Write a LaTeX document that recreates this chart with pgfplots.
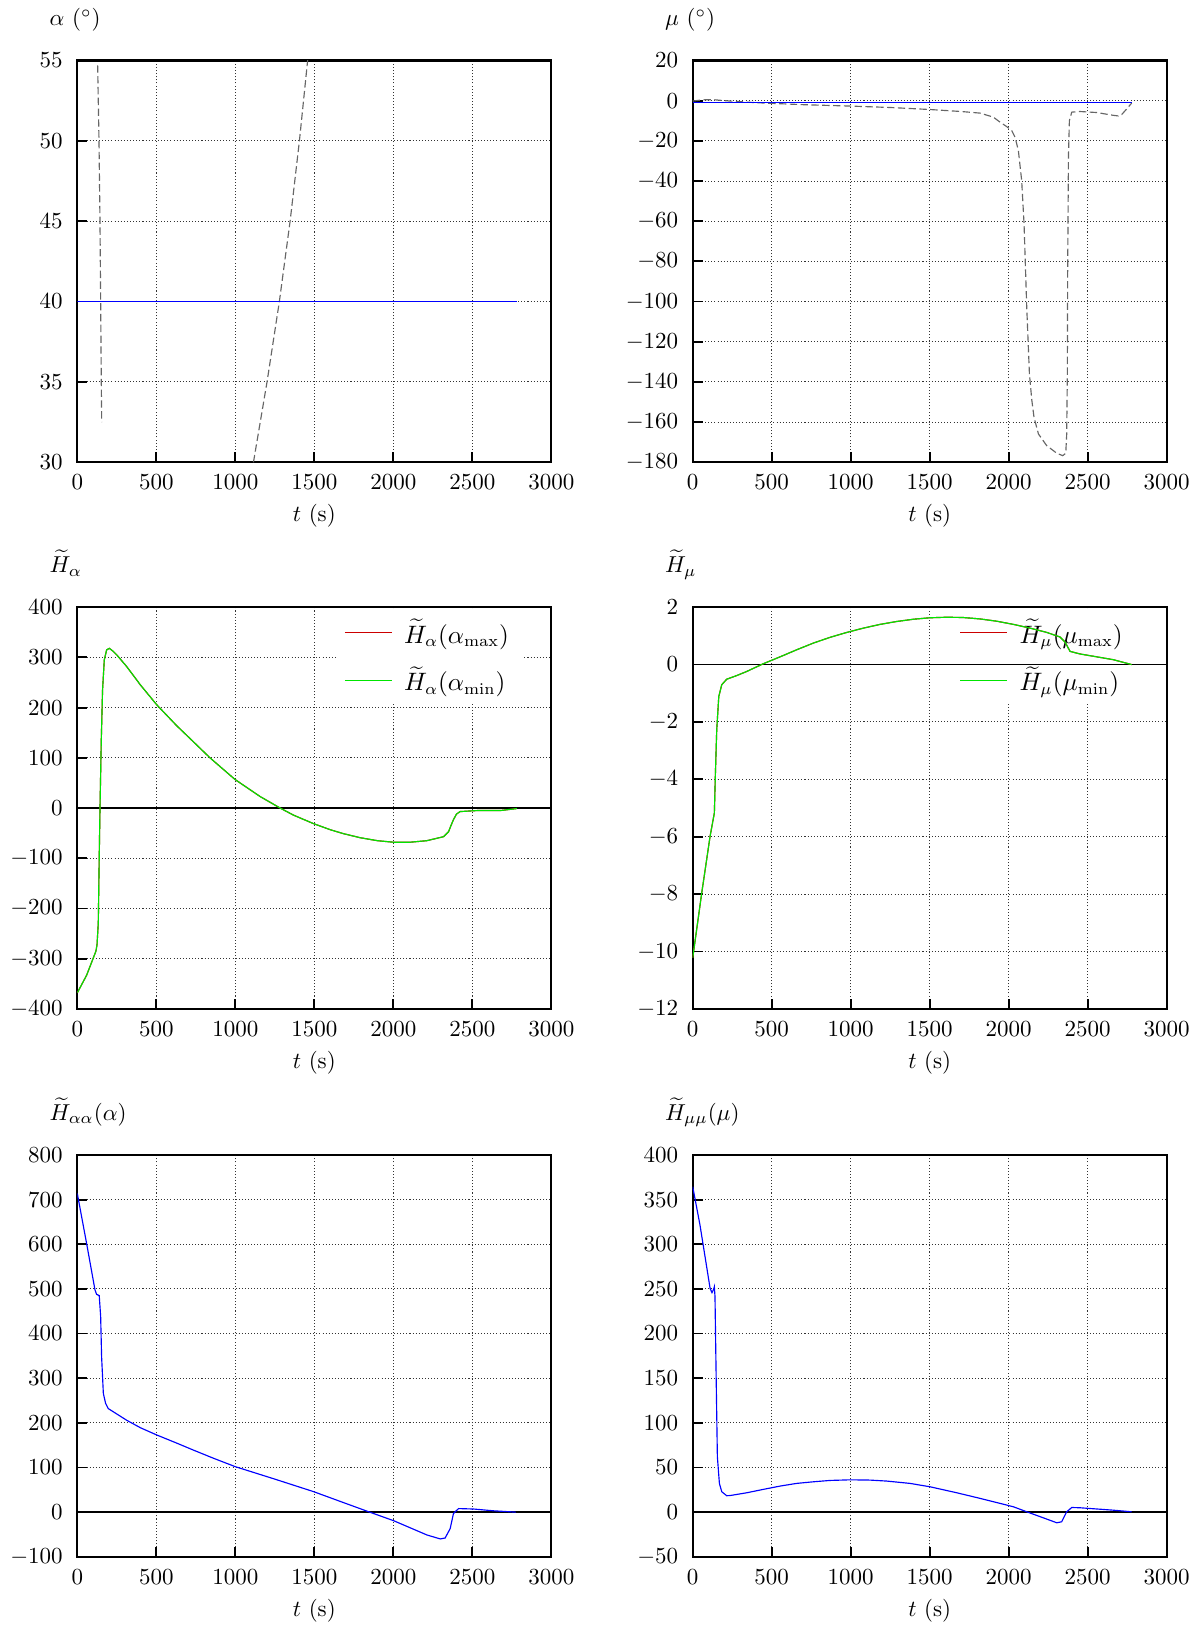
\documentclass[border=0pt]{standalone}
\usepackage{pgfplots}
\pgfplotsset{compat=1.18}
\definecolor{cblue}{rgb}{0,0,1}
\definecolor{cgreen}{rgb}{0,0.9,0}
\definecolor{cred}{rgb}{0.8,0,0}
\definecolor{cgray}{rgb}{0.4,0.4,0.4}
\pgfplotsset{
  layers/legbelow/.define layer set={
    axis background,axis grid,axis descriptions,axis ticks,axis lines,axis tick labels,pre main,main,axis foreground
  }{
    grid style={/pgfplots/on layer=axis grid},
    tick style={/pgfplots/on layer=axis ticks},
    axis line style={/pgfplots/on layer=axis lines},
    label style={/pgfplots/on layer=axis descriptions},
    legend style={/pgfplots/on layer=axis descriptions},
    title style={/pgfplots/on layer=axis descriptions},
    ticklabel style={/pgfplots/on layer=axis tick labels},
  },
  myax/.style={
    scale only axis, width=206.1pt, height=174.7pt, anchor=north west,
    xmin=0, xmax=3000, xtick={0,500,...,3000},
    grid=major,
    major grid style={black!80, line width=0.45pt, dash pattern=on 0.45pt off 0.9pt},
    axis line style={line width=0.9pt},
    tick style={black, line width=0.8pt},
    tick align=inside, tick pos=left,
    xticklabel style={yshift=-2pt}, yticklabel style={xshift=-2.8pt},
    every axis x label/.style={at={(rel axis cs:0.5,0)}, anchor=base, yshift=-25.8pt, inner sep=0pt},
    every axis y label/.style={at={(rel axis cs:0,1)}, anchor=base west, xshift=-12.2pt, yshift=15pt, inner sep=0pt},
    xlabel={$t$ (s)},
    scaled ticks=false,
    /pgf/number format/1000 sep={},
  },
  myleg/.style={
    set layers=legbelow,
    legend style={at={(rel axis cs:0,1)}, anchor=north west, xshift=112.4pt, yshift=-1pt,
      draw=none, fill=white, inner xsep=3.5pt, inner ysep=2pt, row sep=4.8pt, column sep=3.2pt,
      font=\fontsize{10.6pt}{12.5pt}\selectfont},
    legend cell align=left,
    legend image code/.code={\draw[##1, line width=0.5pt] (0pt,0pt) -- (20.3pt,0pt);},
  },
}
\begin{document}
\begin{tikzpicture}
\path (0,0) rectangle (522.2pt,-707pt);

% alpha
\begin{axis}[myax, at={(33.6pt,-26.3pt)}, ymin=30, ymax=55, ytick={30,35,...,55},
  ylabel={$\alpha$ ($^\circ$)}]
\addplot[cgray, line width=0.5pt, dash pattern=on 3.2pt off 1.5pt] coordinates {
(129,54.7) (137.5,50) (143.7,45) (148,40) (152,35) (154.5,32.5)};
\addplot[cgray, line width=0.5pt, dash pattern=on 3.2pt off 1.5pt] coordinates {
(1115,30) (1201,35) (1279,40) (1347,45) (1406,50) (1460,55.2)};
\addplot[cblue, line width=0.5pt] coordinates {(0,40) (2780,40)};
\end{axis}

% mu
\begin{axis}[myax, at={(301.2pt,-26.3pt)}, ymin=-180, ymax=20, ytick={-180,-160,...,20},
  ylabel={$\mu$ ($^\circ$)}]
\addplot[cgray, line width=0.5pt, dash pattern=on 3.2pt off 1.5pt] coordinates {
(0,-0.2) (60,0.4) (130,0.5) (200,0) (400,-1) (700,-2) (1000,-2.7) (1250,-3.4) (1500,-4.4)
(1700,-5.4) (1819,-6.2) (1903,-8.2) (1945,-10.7) (1987,-12.9) (2019,-14.9) (2040,-18.2)
(2061,-24.8) (2082,-39.8) (2097,-61.3) (2114,-102.8) (2131,-136) (2146,-149) (2160,-157.6)
(2188,-165.9) (2240,-171.7) (2304,-175.5) (2342,-176.7) (2361,-175.5) (2367,-165.9)
(2371,-136) (2373,-86) (2378,-28) (2384,-9.9) (2399,-5.7) (2451,-5.4) (2557,-5.9)
(2662,-7.3) (2694,-7.6) (2715,-6.9) (2747,-4.1) (2778,-1.2)};
\addplot[cblue, line width=0.5pt] coordinates {(0,-0.9) (2778,-0.9)};
\end{axis}

% H alpha
\begin{axis}[myax, myleg, at={(33.6pt,-264pt)}, ymin=-400, ymax=400, ytick={-400,-300,...,400},
  ylabel={$\widetilde{H}_\alpha$}]
\addplot[black, line width=0.8pt, forget plot] coordinates {(0,0) (3000,0)};
\addplot[cred, line width=0.5pt] coordinates {
(0,-368) (59,-333) (118,-285) (125,-272) (133,-229) (139,-96) (144,3) (152,136) (160,235)
(171,295) (186,315) (203,318) (228,312) (250,305) (312,282) (400,245) (502,206) (629,164)
(735,132) (840,100) (998,57) (1157,23) (1284,0) (1368,-14) (1495,-31) (1600,-43) (1685,-51)
(1790,-59) (1900,-65) (2001,-68) (2107,-68) (2212,-65) (2318,-57) (2350,-47) (2365,-35)
(2381,-23) (2400,-12) (2423,-7) (2529,-5) (2677,-5) (2782,-1)};
\addplot[cgreen, line width=0.5pt] coordinates {
(0,-368) (59,-333) (118,-285) (125,-272) (133,-229) (139,-96) (144,3) (152,136) (160,235)
(171,295) (186,315) (203,318) (228,312) (250,305) (312,282) (400,245) (502,206) (629,164)
(735,132) (840,100) (998,57) (1157,23) (1284,0) (1368,-14) (1495,-31) (1600,-43) (1685,-51)
(1790,-59) (1900,-65) (2001,-68) (2107,-68) (2212,-65) (2318,-57) (2350,-47) (2365,-35)
(2381,-23) (2400,-12) (2423,-7) (2529,-5) (2677,-5) (2782,-1)};
\legend{$\widetilde{H}_\alpha(\alpha_{\mathrm{max}})$, $\widetilde{H}_\alpha(\alpha_{\mathrm{min}})$}
\end{axis}

% H mu
\begin{axis}[myax, myleg, at={(301.2pt,-264pt)}, ymin=-12, ymax=2, ytick={-12,-10,...,2},
  ylabel={$\widetilde{H}_\mu$}]
\addplot[black, line width=0.8pt, forget plot] coordinates {(0,0) (3000,0)};
\addplot[cred, line width=0.5pt] coordinates {
(0,-10.22) (57,-7.96) (110,-5.98) (131,-5.35) (137,-5.17) (143,-3.9) (152,-2.27) (165,-1.11)
(184,-0.70) (215,-0.51) (280,-0.38) (342,-0.24) (447,0.03) (553,0.27) (660,0.52) (764,0.75)
(870,0.95) (975,1.12) (1080,1.27) (1186,1.40) (1290,1.50) (1397,1.58) (1500,1.63) (1608,1.65)
(1710,1.64) (1819,1.59) (1925,1.51) (2030,1.40) (2135,1.27) (2241,1.12) (2325,0.96)
(2357,0.78) (2388,0.46) (2451,0.37) (2662,0.17) (2778,0)};
\addplot[cgreen, line width=0.5pt] coordinates {
(0,-10.22) (57,-7.96) (110,-5.98) (131,-5.35) (137,-5.17) (143,-3.9) (152,-2.27) (165,-1.11)
(184,-0.70) (215,-0.51) (280,-0.38) (342,-0.24) (447,0.03) (553,0.27) (660,0.52) (764,0.75)
(870,0.95) (975,1.12) (1080,1.27) (1186,1.40) (1290,1.50) (1397,1.58) (1500,1.63) (1608,1.65)
(1710,1.64) (1819,1.59) (1925,1.51) (2030,1.40) (2135,1.27) (2241,1.12) (2325,0.96)
(2357,0.78) (2388,0.46) (2451,0.37) (2662,0.17) (2778,0)};
\legend{$\widetilde{H}_\mu(\mu_{\mathrm{max}})$, $\widetilde{H}_\mu(\mu_{\mathrm{min}})$}
\end{axis}

% H alpha alpha
\begin{axis}[myax, at={(33.6pt,-502.2pt)}, ymin=-100, ymax=800, ytick={-100,0,...,800},
  ylabel={$\widetilde{H}_{\alpha\alpha}(\alpha)$}]
\addplot[black, line width=0.8pt] coordinates {(0,0) (3000,0)};
\addplot[cblue, line width=0.5pt] coordinates {
(0,714) (59,602) (112,498) (122,488) (139,485) (148,438) (154,348) (165,266) (179,244)
(196,232) (312,206) (400,189) (502,173) (620,156) (735,139) (860,121) (999,102) (1250,74)
(1495,46) (1680,22) (1843,1) (2001,-19) (2212,-51) (2297,-60) (2328,-58) (2360,-37)
(2381,-3) (2413,8) (2508,7) (2635,3) (2776,0)};
\end{axis}

% H mu mu
\begin{axis}[myax, at={(301.2pt,-502.2pt)}, ymin=-50, ymax=400, ytick={-50,0,...,400},
  ylabel={$\widetilde{H}_{\mu\mu}(\mu)$}]
\addplot[black, line width=0.8pt] coordinates {(0,0) (3000,0)};
\addplot[cblue, line width=0.5pt] coordinates {
(0,364.5) (46,321.6) (110,250.6) (122,245.8) (131,249) (137,252.5) (141,241.3) (148,155.4)
(156,62) (169,32) (184,22.8) (215,18.4) (236,18.6) (342,21.7) (447,25.5) (553,29.2) (658,32.2)
(764,34) (869,35.5) (996,36.2) (1122,35.9) (1228,34.8) (1375,32.2) (1502,28.4) (1671,21.7)
(1819,15.4) (1945,9.8) (2030,6) (2114,0.4) (2241,-7.8) (2304,-11.9) (2335,-10.8)
(2367,0.4) (2399,5.2) (2451,4.9) (2662,2.2) (2778,0.4)};
\end{axis}
\end{tikzpicture}
\end{document}
